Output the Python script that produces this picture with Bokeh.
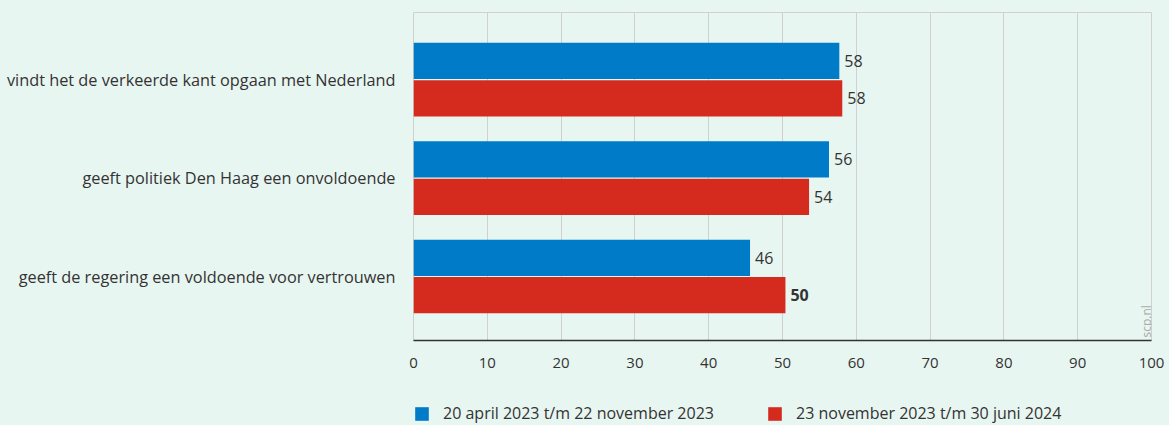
import math
from bokeh.plotting import figure
from bokeh.layouts import column
from bokeh.models import ColumnDataSource, Range1d, Legend, LegendItem, Label, FixedTicker
from bokeh.core.properties import value
from bokeh.embed import file_html
from bokeh.resources import INLINE

categories = [
    "vindt het de verkeerde kant opgaan met Nederland",
    "geeft politiek Den Haag een onvoldoende",
    "geeft de regering een voldoende voor vertrouwen",
]
series_names = ["20 april 2023 t/m 22 november 2023", "23 november 2023 t/m 30 juni 2024"]
period1 = [57.7, 56.3, 45.6]
period2 = [58.1, 53.6, 50.4]
labels1 = ["58", "56", "46"]
labels2 = ["58", "54", "50"]
bold2 = [False, False, True]
x_ticks = [0, 10, 20, 30, 40, 50, 60, 70, 80, 90, 100]

BG = "#e8f6f1"
BLUE = "#007bc7"
RED = "#d52b1e"
TXT = "#333333"
FONT = "Open Sans"

idx = list(range(len(categories)))
off = 0.19
h = 0.368

src1 = ColumnDataSource(dict(y=[i - off for i in idx], v=period1, lab=labels1,
                             fs=["normal"] * len(idx)))
src2 = ColumnDataSource(dict(y=[i + off for i in idx], v=period2, lab=labels2,
                             fs=["bold" if b else "normal" for b in bold2]))

p = figure(width=1169, height=385, output_backend="svg", toolbar_location=None,
           x_range=Range1d(0, 100), y_range=Range1d(2.65, -0.682),
           min_border_left=413, min_border_right=18, min_border_top=12, min_border_bottom=45)
p.background_fill_color = BG
p.border_fill_color = BG
p.outline_line_color = "#d0d0d0"
p.outline_line_width = 1

r1 = p.hbar(y="y", left=0, right="v", height=h, source=src1, color=BLUE, line_color=None)
r2 = p.hbar(y="y", left=0, right="v", height=h, source=src2, color=RED, line_color=None)

for s in (src1, src2):
    p.text(x="v", y="y", text="lab", source=s, x_offset=5, text_align="left",
           text_baseline="middle", text_font=value(FONT), text_font_size="16px",
           text_color=TXT, text_font_style="fs")

# x axis
p.xaxis.ticker = FixedTicker(ticks=x_ticks)
p.xaxis.axis_line_color = TXT
p.xaxis.axis_line_width = 1.5
p.xaxis.major_tick_line_color = None
p.xaxis.minor_tick_line_color = None
p.xaxis.major_tick_out = 0
p.xaxis.major_tick_in = 0
p.xaxis.major_label_text_font = FONT
p.xaxis.major_label_text_font_size = "15px"
p.xaxis.major_label_text_color = TXT
p.xaxis.major_label_standoff = 17

# y axis
p.yaxis.ticker = FixedTicker(ticks=idx)
p.yaxis.major_label_overrides = {i: c for i, c in zip(idx, categories)}
p.yaxis.axis_line_color = None
p.yaxis.major_tick_line_color = None
p.yaxis.minor_tick_line_color = None
p.yaxis.major_label_text_font = FONT
p.yaxis.major_label_text_font_size = "16.3px"
p.yaxis.major_label_text_color = TXT
p.yaxis.major_label_standoff = 12

p.xgrid.grid_line_color = "#d0d0d0"
p.xgrid.grid_line_width = 1
p.ygrid.grid_line_color = None

p.add_layout(Label(x=100, y=2.65, text="scp.nl", angle=math.pi / 2, x_offset=3, y_offset=3,
                   text_align="left", text_baseline="bottom", text_font=FONT,
                   text_font_size="12px", text_color="#aaaaaa"))

# legend strip (its frame is aligned with the chart frame by the column layout)
pl = figure(width=1169, height=40, output_backend="svg", toolbar_location=None,
            x_range=Range1d(0, 100), y_range=Range1d(10, 11),
            min_border_left=0, min_border_right=0, min_border_top=0, min_border_bottom=0)
pl.axis.visible = False
pl.grid.visible = False
pl.outline_line_color = None
pl.background_fill_color = BG
pl.border_fill_color = BG
# swatch renderers reuse the data but fall outside this strip's y range
d1 = pl.hbar(y="y", left=0, right="v", height=h, source=src1, color=BLUE, line_color=None)
d2 = pl.hbar(y="y", left=0, right="v", height=h, source=src2, color=RED, line_color=None)
legend = Legend(items=[LegendItem(label=series_names[0], renderers=[d1]),
                       LegendItem(label=series_names[1], renderers=[d2])],
                orientation="horizontal", location=(0, 1), padding=0, margin=0,
                spacing=23, glyph_width=17, glyph_height=17, label_standoff=13,
                label_width=300, label_height=17, label_text_font=FONT,
                label_text_font_size="16px", label_text_color=TXT,
                border_line_color=None, background_fill_alpha=0)
pl.add_layout(legend, "center")

layout = column(p, pl, spacing=0)
html = file_html(layout, INLINE)
html = html.replace("</head>", "<style>body{background:%s}</style></head>" % BG, 1)
open("out.html", "w").write(html)
